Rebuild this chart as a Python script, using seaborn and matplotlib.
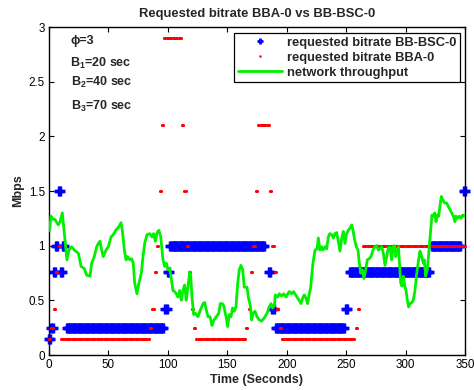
import numpy as np
import matplotlib
matplotlib.use("Agg")
import matplotlib.pyplot as plt
from matplotlib.lines import Line2D
import seaborn as sns

# Requested bitrate of BB-BSC-0, as runs of constant level (Mbps) over [start, end] seconds
bsc_level = [0.15, 0.25, 0.76, 1.0, 1.5, 0.76, 1.0, 0.25, 0.42, 0.76, 1.0, 0.76, 0.42, 0.25, 0.42, 0.76, 1.0, 1.5]
bsc_start = [0, 2, 4, 6, 8, 10, 12, 15, 98, 100, 102, 185, 188, 191, 250, 253, 322, 349]
bsc_end   = [1, 3, 5, 7, 9, 11, 13, 96, 99, 101, 181, 186, 189, 248, 251, 320, 346, 350]

# Requested bitrate of BBA-0, same encoding
bba_level = [0.15, 0.25, 0.42, 0.76, 1.0, 0.15, 0.25, 0.42, 0.76, 1.0, 1.5, 2.1, 2.9, 2.1, 1.5, 1.0,
             0.76, 0.42, 0.25, 0.15, 0.25, 0.42, 0.76, 1.0, 1.5, 2.1, 1.5, 1.0, 0.76, 0.42, 0.25, 0.15,
             0.25, 0.42, 0.76, 1.0]
bba_start = [0, 2, 4, 6, 8, 10, 85, 87, 89, 91, 93, 95, 97, 112, 114, 116,
             118, 120, 122, 124, 166, 168, 170, 172, 174, 176, 186, 188, 190, 192, 194, 196,
             258, 260, 262, 264]
bba_end   = [1, 3, 5, 7, 9, 84, 86, 88, 90, 92, 94, 96, 111, 113, 115, 117,
             119, 121, 123, 165, 167, 169, 171, 173, 175, 185, 187, 189, 191, 193, 195, 257,
             259, 261, 263, 350]

# Measured network throughput (Mbps)
thr_time = [0.5, 1.7, 3.5, 5.0, 7.8, 9.3, 10.5, 11.2, 12.9, 14.0, 15.1, 16.8, 19.0, 21.3, 24.7, 27.0,
            29.7, 31.7, 34.5, 35.9, 38.1, 40.1, 41.5, 42.9, 44.3, 45.7, 48.0, 49.9, 52.2, 54.1, 56.1,
            57.8, 59.7, 60.6, 61.7, 63.4, 64.8, 66.2, 68.1, 69.5, 70.9, 72.1, 74.0, 75.7, 77.7, 79.1,
            80.5, 82.4, 84.7, 86.7, 88.0, 89.5, 90.9, 92.5, 94.0, 95.9, 97.3, 98.7, 100.1, 101.5,
            102.9, 104.3, 105.7, 107.1, 108.5, 109.9, 111.3, 112.7, 114.1, 115.5, 116.9, 118.4,
            119.2, 120.3, 121.7, 123.4, 125.4, 127.3, 129.6, 131.0, 132.4, 133.8, 135.5, 137.1,
            138.8, 140.8, 142.8, 144.1, 145.8, 147.0, 149.0, 150.3, 151.7, 153.1, 154.5, 155.9,
            157.3, 158.8, 160.1, 161.5, 163.0, 164.3, 166.6, 167.7, 169.4, 170.5, 171.6, 173.3,
            175.0, 176.9, 178.9, 181.1, 183.4, 185.3, 186.8, 188.2, 189.6, 190.4, 192.4, 193.8,
            195.7, 197.5, 199.5, 200.9, 202.2, 204.1, 205.8, 206.9, 208.6, 210.5, 212.0, 213.4,
            214.8, 216.2, 217.6, 219.0, 220.2, 221.0, 222.1, 223.8, 225.5, 226.6, 228.0, 229.4,
            230.5, 232.2, 233.6, 235.0, 236.2, 237.9, 239.3, 240.6, 242.0, 243.4, 244.8, 246.3,
            247.6, 249.0, 250.4, 251.8, 253.2, 254.7, 255.8, 257.2, 258.6, 260.0, 260.8, 262.2,
            263.6, 265.0, 266.4, 267.8, 269.3, 270.9, 272.6, 274.3, 275.7, 277.1, 278.5, 279.9,
            281.3, 282.7, 284.1, 285.5, 286.9, 288.3, 289.5, 290.6, 291.7, 293.1, 294.0, 294.7,
            295.9, 297.0, 298.1, 299.3, 300.4, 301.5, 302.6, 303.8, 305.2, 306.5, 307.9, 309.4,
            310.7, 312.1, 313.6, 314.9, 315.8, 316.9, 318.3, 319.7, 321.1, 322.2, 323.4, 324.5,
            325.6, 326.8, 327.9, 329.0, 330.1, 331.2, 332.9, 334.6, 335.9, 337.4, 338.8, 340.2,
            341.6, 342.4, 343.8, 345.2, 346.6, 348.0, 349.1, 350.0]
thr_mbps = [1.14, 1.27, 1.24, 1.24, 1.19, 1.22, 1.27, 1.30, 1.11, 0.98, 0.87, 0.96, 0.99, 0.96, 0.93, 0.81,
            0.79, 0.73, 0.72, 0.84, 0.90, 0.99, 1.02, 1.04, 0.96, 0.90, 0.96, 0.99, 1.08, 1.10, 1.14,
            1.16, 1.19, 1.21, 1.14, 0.96, 0.87, 0.90, 0.87, 0.88, 0.84, 0.66, 0.56, 0.66, 0.75, 0.90,
            1.02, 1.10, 1.11, 1.08, 1.11, 1.04, 1.12, 1.14, 1.08, 0.87, 0.81, 0.84, 0.78, 0.79,
            0.70, 0.59, 0.58, 0.56, 0.53, 0.59, 0.50, 0.59, 0.64, 0.50, 0.62, 0.76,
            0.73, 0.53, 0.37, 0.38, 0.35, 0.41, 0.47, 0.48, 0.41, 0.35, 0.35, 0.27,
            0.32, 0.35, 0.38, 0.47, 0.47, 0.45, 0.35, 0.26, 0.37, 0.35, 0.43, 0.40,
            0.44, 0.66, 0.78, 0.82, 0.78, 0.62, 0.62, 0.53, 0.45, 0.32, 0.38, 0.40,
            0.35, 0.32, 0.31, 0.34, 0.38, 0.44, 0.47, 0.43, 0.45, 0.55, 0.53, 0.56,
            0.54, 0.56, 0.53, 0.56, 0.58, 0.56, 0.58, 0.56, 0.53, 0.50, 0.47, 0.52,
            0.55, 0.52, 0.47, 0.56, 0.62, 0.72, 0.84, 0.96, 0.97, 1.07, 0.96, 0.99,
            0.96, 0.99, 0.97, 1.08, 1.11, 1.10, 1.07, 1.11, 1.12, 1.04, 0.95, 1.07,
            1.13, 1.02, 1.11, 1.14, 1.16, 1.19, 1.14, 1.05, 0.99, 0.96, 0.87, 0.75,
            0.78, 0.70, 0.78, 0.87, 0.88, 0.90, 0.96, 0.99, 1.00, 0.96, 0.97, 0.99,
            0.93, 0.82, 0.90, 0.98, 0.99, 0.87, 0.99, 1.00, 0.90, 0.96, 0.99, 0.87,
            0.66, 0.63, 0.72, 0.63, 0.59, 0.50, 0.44, 0.47, 0.48, 0.50, 0.59, 0.75,
            0.85, 0.95, 0.90, 0.84, 0.87, 0.72, 0.78, 0.96, 1.14, 1.28, 1.27, 1.30,
            1.22, 1.28, 1.27, 1.37, 1.45, 1.42, 1.39, 1.39, 1.36, 1.33, 1.30, 1.27,
            1.22, 1.27, 1.25, 1.27, 1.25, 1.28, 1.27, 1.28]

x_ticks = [0, 50, 100, 150, 200, 250, 300, 350]
y_ticks = [0, 0.5, 1, 1.5, 2, 2.5, 3]
y_tick_labels = ["0", "0.5", "1", "1.5", "2", "2.5", "3"]

BLUE, RED, GREEN = "#0000ff", "#ff0000", "#00f000"


def per_second(levels, starts, ends):
    """Turn constant-level runs into one sample per second."""
    t, v = [], []
    for lev, a, b in zip(levels, starts, ends):
        secs = np.arange(a, b + 1)
        t.extend(secs)
        v.extend([lev] * len(secs))
    return np.array(t, dtype=float), np.array(v)


bsc_t, bsc_v = per_second(bsc_level, bsc_start, bsc_end)
bba_t, bba_v = per_second(bba_level, bba_start, bba_end)

sns.set_style("ticks")
plt.rcParams["font.family"] = ["Liberation Sans", "DejaVu Sans"]
plt.rcParams["mathtext.default"] = "regular"

W, H = 474, 390
fig = plt.figure(figsize=(W / 100, H / 100), dpi=100)
ax = fig.add_axes([49 / W, 1 - 355 / H, 416 / W, 328 / H])

sns.scatterplot(x=bsc_t, y=bsc_v, marker="+", s=46, linewidth=2.5, color=BLUE,
                label="requested bitrate BB-BSC-0", clip_on=False, ax=ax, zorder=2)
sns.scatterplot(x=bba_t, y=bba_v, marker="o", s=5, linewidth=0, color=RED,
                label="requested bitrate BBA-0", clip_on=False, ax=ax, zorder=3)
sns.lineplot(x=thr_time, y=thr_mbps, color=GREEN, linewidth=2.0, estimator=None,
             sort=False, label="network throughput", ax=ax, zorder=4)

ax.set_xlim(0, 350)
ax.set_ylim(0, 3)
ax.set_xticks(x_ticks)
ax.set_xticklabels([str(v) for v in x_ticks])
ax.set_yticks(y_ticks)
ax.set_yticklabels(y_tick_labels)
ax.tick_params(direction="in", length=3.5, width=0.8, top=True, right=True,
               labelsize=8.4, pad=3, colors="black")
for sp in ax.spines.values():
    sp.set_visible(True)
    sp.set_linewidth(1.0)
    sp.set_color("black")

ax.set_title("Requested bitrate BBA-0 vs BB-BSC-0", fontsize=9.4, fontweight="bold", pad=7)
ax.set_xlabel("Time (Seconds)", fontsize=9.0, fontweight="bold", labelpad=2)
ax.set_ylabel("Mbps", fontsize=9.0, fontweight="bold", labelpad=3)

# Buffer settings
ax.text(17.7, 2.84, "ϕ=3", fontsize=9, fontweight="bold", ha="left", va="baseline")
ax.text(17.7, 2.635, "B$_1$=20 sec", fontsize=9, fontweight="bold", ha="left", va="baseline")
ax.text(18.5, 2.46, "B$_2$=40 sec", fontsize=9, fontweight="bold", ha="left", va="baseline")
ax.text(18.5, 2.24, "B$_3$=70 sec", fontsize=9, fontweight="bold", ha="left", va="baseline")

# Legend keys drawn smaller than the plotted markers
_, labels = ax.get_legend_handles_labels()
keys = [
    Line2D([], [], ls="none", marker="+", ms=5, mew=2.0, color=BLUE),
    Line2D([], [], ls="none", marker="o", ms=1.8, mew=0, color=RED),
    Line2D([], [], color=GREEN, lw=2.0),
]
leg = ax.legend(keys, labels, loc="upper right", bbox_to_anchor=(0.988, 0.982), borderaxespad=0,
                frameon=True, fancybox=False, framealpha=1, edgecolor="black",
                prop={"weight": "bold", "size": 9.3}, handlelength=3.4, handletextpad=0.35,
                numpoints=1, labelspacing=0.22, borderpad=0.3)
leg.get_frame().set_linewidth(0.9)

fig.savefig("out.png", dpi=100)
